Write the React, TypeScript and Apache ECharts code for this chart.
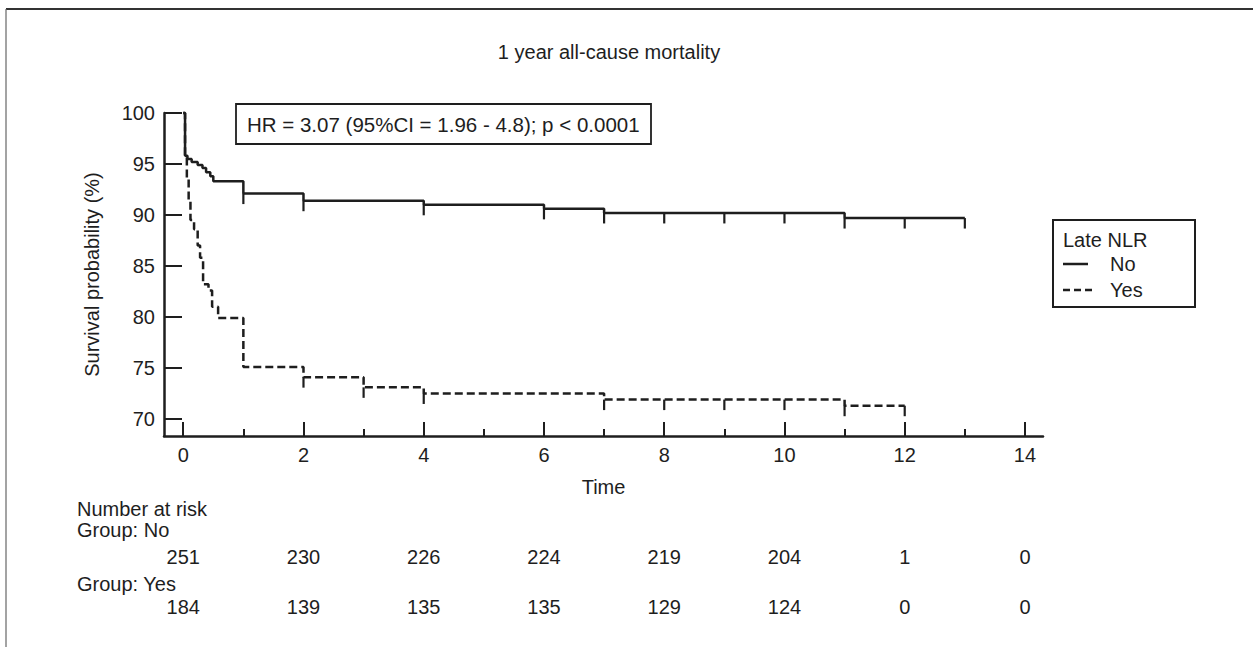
import React, { useEffect, useRef } from "react";
import * as echarts from "echarts";

// Kaplan-Meier step curves (time, survival %)
const timesNo = [0, 0.03, 0.07, 0.14, 0.24, 0.32, 0.38, 0.45, 0.5, 1, 2, 4, 6, 7, 11, 13];
const survNo = [100, 95.8, 95.5, 95.2, 94.9, 94.6, 94.2, 93.8, 93.3, 92.1, 91.4, 91.0, 90.6, 90.2, 89.7, 89.7];

const timesYes = [0, 0.03, 0.06, 0.09, 0.12, 0.18, 0.24, 0.28, 0.33, 0.42, 0.48, 0.58, 1, 2, 3, 4, 7, 11, 12];
const survYes = [100, 95.8, 93.5, 91.3, 89.5, 88.6, 87.0, 85.8, 83.2, 82.6, 81.0, 79.9, 75.1, 74.1, 73.1, 72.5, 71.9, 71.3, 71.3];

// censoring marks (times)
const censorNo = [1, 2, 4, 6, 7, 8, 9, 10, 11, 12, 13];
const censorYes = [2, 3, 4, 7, 8, 9, 10, 11, 12];

// number at risk
const riskTimes = [0, 2, 4, 6, 8, 10, 12, 14];
const riskNo = [251, 230, 226, 224, 219, 204, 1, 0];
const riskYes = [184, 139, 135, 135, 129, 124, 0, 0];

// axis ticks
const xMajorTicks = [0, 2, 4, 6, 8, 10, 12, 14];
const xMinorTicks = [1, 3, 5, 7, 9, 11, 13];
const yTicks = [70, 75, 80, 85, 90, 95, 100];

const groupNames = ["No", "Yes"];

const X_MIN = -0.32;
const X_MAX = 14.3;
const Y_MIN = 68.33;
const Y_MAX = 100;

const INK = "#1e1e1e";
const FONT = "Liberation Sans, Arial, sans-serif";
const DASH = [8, 4];

function stepValue(times: number[], vals: number[], t: number) {
  let v = vals[0];
  for (let i = 0; i < times.length; i++) {
    if (times[i] <= t) v = vals[i];
  }
  return v;
}

export default function App() {
  const ref = useRef<HTMLDivElement>(null);

  useEffect(() => {
    const chart = echarts.init(ref.current as HTMLDivElement, null, { renderer: "svg" });

    const censorRender = (params: any, api: any) => {
      const p = api.coord([api.value(0), api.value(1)]);
      return {
        type: "line",
        shape: { x1: p[0], y1: p[1], x2: p[0], y2: p[1] + 10.5 },
        style: { stroke: INK, lineWidth: 2.2 },
      };
    };

    const riskRender = (rowY: number) => (params: any, api: any) => {
      const p = api.coord([api.value(0), Y_MIN]);
      return {
        type: "text",
        x: p[0],
        y: rowY,
        style: {
          text: String(api.value(1)),
          textAlign: "center",
          textVerticalAlign: "middle",
          fontSize: 20,
          fontFamily: FONT,
          fill: INK,
        },
      };
    };

    const txt = (text: string, x: number, y: number, extra: any = {}) => ({
      type: "text",
      x,
      y,
      style: { text, textVerticalAlign: "middle", fontSize: 20, fontFamily: FONT, fill: INK, ...extra },
    });

    const option: any = {
      animation: false,
      backgroundColor: "#ffffff",
      textStyle: { fontFamily: FONT, color: INK },
      grid: { left: 164, right: 210, top: 113, bottom: 211 },
      xAxis: [
        {
          type: "value",
          min: X_MIN,
          max: X_MAX,
          name: "Time",
          nameLocation: "middle",
          nameGap: 41,
          nameTextStyle: { fontSize: 20, color: INK, fontFamily: FONT },
          axisLine: { show: true, onZero: false, lineStyle: { color: INK, width: 2.5 } },
          axisTick: { show: true, inside: true, length: 14, customValues: xMajorTicks, lineStyle: { color: INK, width: 2 } },
          axisLabel: { customValues: xMajorTicks, margin: 9, fontSize: 20, color: INK, fontFamily: FONT },
          splitLine: { show: false },
        },
        {
          type: "value",
          min: X_MIN,
          max: X_MAX,
          position: "bottom",
          axisLine: { show: false, onZero: false },
          axisTick: { show: true, inside: true, length: 7, customValues: xMinorTicks, lineStyle: { color: INK, width: 2 } },
          axisLabel: { show: false },
          splitLine: { show: false },
        },
      ],
      yAxis: {
        type: "value",
        min: Y_MIN,
        max: Y_MAX,
        name: "Survival probability (%)",
        nameLocation: "middle",
        nameGap: 62,
        nameRotate: 90,
        nameTextStyle: { fontSize: 20, color: INK, fontFamily: FONT },
        axisLine: { show: true, onZero: false, lineStyle: { color: INK, width: 2.5 } },
        axisTick: { show: true, inside: true, length: 18, customValues: yTicks, lineStyle: { color: INK, width: 2 } },
        axisLabel: { customValues: yTicks, margin: 9, fontSize: 20, color: INK, fontFamily: FONT },
        splitLine: { show: false },
      },
      series: [
        {
          name: groupNames[0],
          type: "line",
          step: "end",
          symbol: "none",
          showSymbol: false,
          clip: false,
          data: timesNo.map((t, i) => [t, survNo[i]]),
          lineStyle: { color: INK, width: 2.5, type: "solid" },
          itemStyle: { color: INK },
        },
        {
          name: groupNames[1],
          type: "line",
          step: "end",
          symbol: "none",
          showSymbol: false,
          clip: false,
          data: timesYes.map((t, i) => [t, survYes[i]]),
          lineStyle: { color: INK, width: 2.5, type: DASH },
          itemStyle: { color: INK },
        },
        {
          name: "censor-No",
          type: "custom",
          renderItem: censorRender,
          data: censorNo.map((t) => [t, stepValue(timesNo, survNo, t)]),
        },
        {
          name: "censor-Yes",
          type: "custom",
          renderItem: censorRender,
          data: censorYes.map((t) => [t, stepValue(timesYes, survYes, t)]),
        },
        {
          name: "risk-No",
          type: "custom",
          renderItem: riskRender(557),
          data: riskTimes.map((t, i) => [t, riskNo[i]]),
        },
        {
          name: "risk-Yes",
          type: "custom",
          renderItem: riskRender(607),
          data: riskTimes.map((t, i) => [t, riskYes[i]]),
        },
      ],
      graphic: [
        { type: "line", shape: { x1: 6, y1: 9, x2: 1253, y2: 9 }, style: { stroke: "#333", lineWidth: 2 } },
        { type: "line", shape: { x1: 6, y1: 9, x2: 6, y2: 647 }, style: { stroke: "#666", lineWidth: 1.2 } },
        txt("1 year all-cause mortality", 609, 52, { textAlign: "center" }),
        { type: "rect", shape: { x: 236, y: 104, width: 415, height: 40 }, style: { fill: "#fff", stroke: INK, lineWidth: 1.8 } },
        txt("HR = 3.07 (95%CI = 1.96 - 4.8); p < 0.0001", 247, 124, { fontSize: 20.5 }),
        // legend
        { type: "rect", shape: { x: 1053, y: 220, width: 142, height: 87 }, style: { fill: "#fff", stroke: INK, lineWidth: 2 } },
        txt("Late NLR", 1063, 240),
        { type: "line", shape: { x1: 1063, y1: 264, x2: 1088, y2: 264 }, style: { stroke: INK, lineWidth: 2.5 } },
        txt(groupNames[0], 1110, 264),
        { type: "line", shape: { x1: 1063, y1: 290, x2: 1094, y2: 290 }, style: { stroke: INK, lineWidth: 2.5, lineDash: [7, 4] } },
        txt(groupNames[1], 1110, 290),
        // number at risk headings
        txt("Number at risk", 77, 509),
        txt("Group: " + groupNames[0], 77, 530),
        txt("Group: " + groupNames[1], 77, 584),
      ],
    };

    chart.setOption(option);
    return () => chart.dispose();
  }, []);

  return (
    <div
      ref={ref}
      style={{ position: "absolute", left: 0, top: 0, width: 1253, height: 647, background: "#fff" }}
    />
  );
}
